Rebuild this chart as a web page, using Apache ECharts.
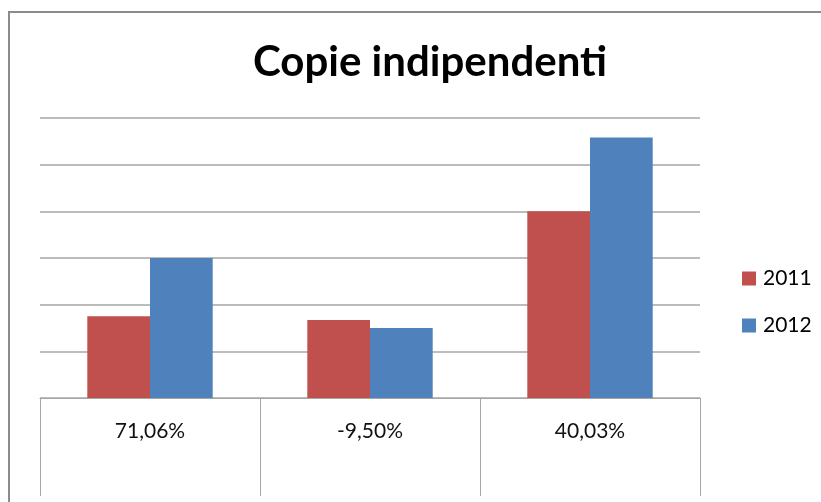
<!DOCTYPE html>
<html>
<head>
<meta charset="utf-8">
<script src="https://cdn.jsdelivr.net/npm/echarts@6/dist/echarts.min.js"></script>
<style>
  html, body { margin: 0; padding: 0; background: #fff; }
  #chart { width: 821px; height: 502px; }
</style>
</head>
<body>
<div id="chart"></div>
<script>
// categories and series
const categories = ['71,06%', '-9,50%', '40,03%'];
const values2011 = [1.75, 1.67, 4.0];
const values2012 = [3.0, 1.5, 5.58];

const chart = echarts.init(document.getElementById('chart'));
const font = 'Lato, "Open Sans", sans-serif';

chart.setOption({
  backgroundColor: '#fff',
  animation: false,
  title: {
    text: 'Copie indipendenti',
    left: 425,
    top: 36,
    textAlign: 'center',
    textStyle: { fontFamily: font, fontSize: 42, fontWeight: 'bold', color: '#000' },
  },
  legend: {
    orient: 'vertical',
    left: 737,
    top: 263,
    itemWidth: 14,
    itemHeight: 14,
    itemGap: 26,
    icon: 'rect',
    textStyle: { fontFamily: font, fontSize: 21, color: '#000', padding: [0, 0, 0, 2] },
    data: ['2011', '2012'],
  },
  grid: { left: 40, right: 121, top: 118, bottom: 104 },
  xAxis: {
    type: 'category',
    data: categories,
    axisLine: { lineStyle: { color: '#a6a6a6', width: 1 } },
    axisTick: { show: true, length: 98, interval: 0, lineStyle: { color: '#a6a6a6' } },
    axisLabel: { margin: 23, fontFamily: font, fontSize: 21, color: '#111' },
  },
  yAxis: {
    type: 'value',
    min: 0,
    max: 6,
    interval: 1,
    axisLabel: { show: false },
    axisLine: { show: false },
    axisTick: { show: false },
    splitLine: { lineStyle: { color: '#a6a6a6', width: 1.5 } },
  },
  graphic: [
    {
      type: 'polyline',
      shape: { points: [[9, 502], [9, 12], [821, 12]] },
      style: { stroke: '#8c8c8c', lineWidth: 2, fill: null },
      silent: true,
    },
  ],
  series: [
    {
      name: '2011',
      type: 'bar',
      data: values2011,
      barGap: '0%',
      barCategoryGap: '43%',
      itemStyle: { color: '#c0504d' },
    },
    {
      name: '2012',
      type: 'bar',
      data: values2012,
      itemStyle: { color: '#4f81bd' },
    },
  ],
});
</script>
</body>
</html>
